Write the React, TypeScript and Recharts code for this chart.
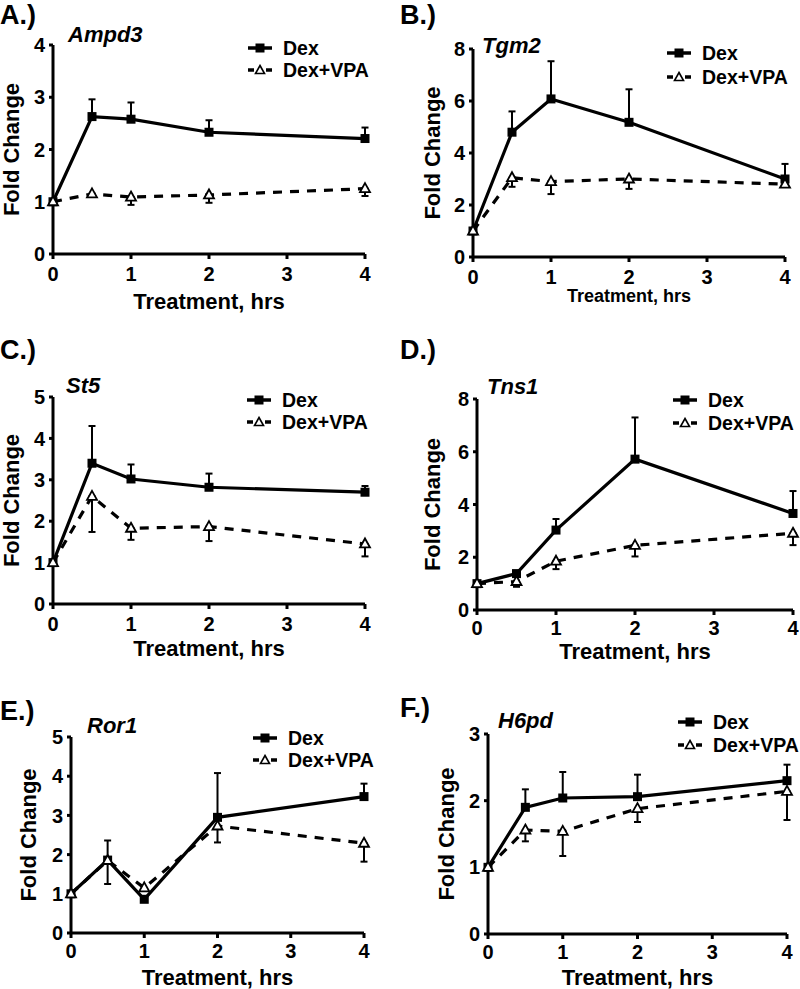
import React from 'react';
import { LineChart, Line, XAxis, YAxis, ErrorBar, Legend } from 'recharts';

// ---- data ----
const hours = [0, 0.5, 1, 2, 4];
const xTicks = [0, 1, 2, 3, 4];
const seriesNames = ['Dex', 'Dex+VPA'];
const panelLetters = ['A.)', 'B.)', 'C.)', 'D.)', 'E.)', 'F.)'];
const geneNames = ['Ampd3', 'Tgm2', 'St5', 'Tns1', 'Ror1', 'H6pd'];
const yMaxes = [4, 8, 5, 8, 5, 3];
const yTickSets = [
  [0, 1, 2, 3, 4],
  [0, 2, 4, 6, 8],
  [0, 1, 2, 3, 4, 5],
  [0, 2, 4, 6, 8],
  [0, 1, 2, 3, 4, 5],
  [0, 1, 2, 3],
];
const xTitle = 'Treatment, hrs';
const yTitle = 'Fold Change';

// Dex mean and upper SEM; Dex+VPA mean and lower SEM
const ampd3Dex = [1.0, 2.63, 2.58, 2.33, 2.21];
const ampd3DexErr = [0, 0.33, 0.32, 0.23, 0.21];
const ampd3Vpa = [1.0, 1.15, 1.09, 1.13, 1.25];
const ampd3VpaErr = [0, 0.05, 0.15, 0.15, 0.14];

const tgm2Dex = [1.0, 4.8, 6.08, 5.18, 3.0];
const tgm2DexErr = [0, 0.8, 1.45, 1.27, 0.58];
const tgm2Vpa = [1.0, 3.05, 2.9, 3.0, 2.8];
const tgm2VpaErr = [0, 0.35, 0.48, 0.38, 0.1];

const st5Dex = [1.0, 3.4, 3.02, 2.82, 2.7];
const st5DexErr = [0, 0.9, 0.35, 0.33, 0.15];
const st5Vpa = [1.0, 2.6, 1.83, 1.87, 1.45];
const st5VpaErr = [0, 0.86, 0.28, 0.35, 0.3];

const tns1Dex = [1.0, 1.38, 3.03, 5.72, 3.66];
const tns1DexErr = [0, 0.1, 0.42, 1.58, 0.85];
const tns1Vpa = [1.0, 1.08, 1.85, 2.45, 2.91];
const tns1VpaErr = [0, 0.2, 0.3, 0.42, 0.45];

const ror1Dex = [1.0, 1.86, 0.86, 2.95, 3.48];
const ror1DexErr = [0, 0.5, 0, 1.13, 0.33];
const ror1Vpa = [1.0, 1.85, 1.15, 2.73, 2.29];
const ror1VpaErr = [0, 0.6, 0.05, 0.42, 0.47];

const h6pdDex = [1.0, 1.9, 2.04, 2.06, 2.3];
const h6pdDexErr = [0, 0.27, 0.39, 0.33, 0.24];
const h6pdVpa = [1.0, 1.56, 1.54, 1.88, 2.14];
const h6pdVpaErr = [0, 0.17, 0.37, 0.2, 0.43];

const panelSeries = [
  [ampd3Dex, ampd3DexErr, ampd3Vpa, ampd3VpaErr],
  [tgm2Dex, tgm2DexErr, tgm2Vpa, tgm2VpaErr],
  [st5Dex, st5DexErr, st5Vpa, st5VpaErr],
  [tns1Dex, tns1DexErr, tns1Vpa, tns1VpaErr],
  [ror1Dex, ror1DexErr, ror1Vpa, ror1VpaErr],
  [h6pdDex, h6pdDexErr, h6pdVpa, h6pdVpaErr],
];

// ---- layout ----
const panelLayout = [
  { col: 0, L: 53, R: 365, T: 45, B: 254, xBase: 309, xFont: 22, tm: 8, yTitleX: 11, legX: 248, legY: 48, legGap: 22, geneX: 68, geneY: 35, letterY: 15 },
  { col: 1, L: 473, R: 785, T: 49, B: 257, xBase: 302, xFont: 18, tm: 8, yTitleX: 432, legX: 667, legY: 53, legGap: 24, geneX: 482, geneY: 46, letterY: 15 },
  { col: 0, L: 53, R: 365, T: 397, B: 604, xBase: 656, xFont: 22, tm: 8, yTitleX: 11, legX: 247, legY: 400, legGap: 22, geneX: 66, geneY: 386, letterY: 350 },
  { col: 1, L: 477, R: 793, T: 399, B: 610, xBase: 659, xFont: 22, tm: 6, yTitleX: 432, legX: 673, legY: 400, legGap: 23, geneX: 487, geneY: 387, letterY: 350 },
  { col: 0, L: 71, R: 364, T: 737, B: 933, xBase: 985, xFont: 22, tm: 6, yTitleX: 28, legX: 253, legY: 738, legGap: 22, geneX: 87, geneY: 726, letterY: 711 },
  { col: 1, L: 488, R: 787, T: 734, B: 934, xBase: 985, xFont: 22, tm: 6, yTitleX: 446, legX: 678, legY: 722, legGap: 23, geneX: 498, geneY: 721, letterY: 708 },
];

const FONT = '"Liberation Sans", Arial, Helvetica, sans-serif';

const SquareDot = (p: any) => {
  if (p.cx == null || p.cy == null) return <g key={`s${p.index}`} />;
  return <rect key={`s${p.index}`} x={p.cx - 4.5} y={p.cy - 4.5} width={9} height={9} fill="#000" />;
};

const TriangleDot = (p: any) => {
  if (p.cx == null || p.cy == null) return <g key={`t${p.index}`} />;
  const { cx, cy } = p;
  return (
    <polygon
      key={`t${p.index}`}
      points={`${cx},${cy - 5.5} ${cx + 5},${cy + 3.5} ${cx - 5},${cy + 3.5}`}
      fill="#fff"
      stroke="#000"
      strokeWidth={1.8}
    />
  );
};

const makeLegend = (gap: number) => () => (
  <div style={{ fontFamily: FONT, fontWeight: 'bold', fontSize: 19.5, color: '#000' }}>
    <div style={{ display: 'flex', alignItems: 'center', height: gap }}>
      <svg width={24} height={12} style={{ display: 'block' }}>
        <line x1={0} y1={6} x2={24} y2={6} stroke="#000" strokeWidth={3.5} />
        <rect x={7.5} y={1.5} width={9} height={9} fill="#000" />
      </svg>
      <span style={{ marginLeft: 11, whiteSpace: 'nowrap' }}>{seriesNames[0]}</span>
    </div>
    <div style={{ display: 'flex', alignItems: 'center', height: gap }}>
      <svg width={24} height={12} style={{ display: 'block' }}>
        <line x1={0} y1={6} x2={6} y2={6} stroke="#000" strokeWidth={3.5} />
        <line x1={18} y1={6} x2={24} y2={6} stroke="#000" strokeWidth={3.5} />
        <polygon points="12,1.5 16.5,9.5 7.5,9.5" fill="#fff" stroke="#000" strokeWidth={1.6} />
      </svg>
      <span style={{ marginLeft: 11, whiteSpace: 'nowrap' }}>{seriesNames[1]}</span>
    </div>
  </div>
);

const Panel = ({ idx }: { idx: number }) => {
  const lay = panelLayout[idx];
  const [dex, dexErr, vpa, vpaErr] = panelSeries[idx];
  const data = hours.map((h, i) => ({
    h,
    dex: dex[i],
    dexErr: [0, dexErr[i]],
    vpa: vpa[i],
    vpaErr: [vpaErr[i], 0],
  }));
  const chartLeft = lay.col * 400;
  const chartTop = lay.T - 20;
  const chartBottom = lay.xBase + 5;
  const height = chartBottom - chartTop;
  const width = 400;
  const axisStyle = { stroke: '#000', strokeWidth: 3 };
  const tickStyle = { fill: '#000', fontSize: 20, fontWeight: 'bold', fontFamily: FONT };
  return (
    <>
      <div style={{ position: 'absolute', left: chartLeft, top: chartTop }}>
        <LineChart
          width={width}
          height={height}
          data={data}
          margin={{ top: 20, right: chartLeft + width - lay.R, bottom: 0, left: 0 }}
        >
          <XAxis
            dataKey="h"
            type="number"
            domain={[0, 4]}
            ticks={xTicks}
            interval={0}
            height={chartBottom - lay.B}
            axisLine={axisStyle}
            tickLine={axisStyle}
            tickSize={5}
            tickMargin={lay.tm}
            tick={tickStyle}
            label={{
              value: xTitle,
              position: 'insideBottom',
              offset: 5,
              style: { fill: '#000', fontSize: lay.xFont, fontWeight: 'bold', fontFamily: FONT },
            }}
          />
          <YAxis
            type="number"
            domain={[0, yMaxes[idx]]}
            ticks={yTickSets[idx]}
            interval={0}
            width={lay.L - chartLeft}
            axisLine={axisStyle}
            tickLine={axisStyle}
            tickSize={4}
            tickMargin={4}
            tick={tickStyle}
            label={{
              value: yTitle,
              angle: -90,
              position: 'insideLeft',
              offset: lay.yTitleX - chartLeft,
              style: { fill: '#000', fontSize: 22, fontWeight: 'bold', fontFamily: FONT, textAnchor: 'middle' },
            }}
          />
          <Legend
            layout="vertical"
            align="center"
            verticalAlign="middle"
            content={makeLegend(lay.legGap)}
            wrapperStyle={{
              left: lay.legX - chartLeft,
              top: lay.legY - lay.legGap / 2 - chartTop,
              width: 160,
            }}
          />
          <Line
            dataKey="dex"
            name={seriesNames[0]}
            type="linear"
            stroke="#000"
            strokeWidth={3.2}
            dot={SquareDot}
            activeDot={false}
            isAnimationActive={false}
          >
            <ErrorBar dataKey="dexErr" direction="y" width={3.5} stroke="#000" strokeWidth={2} isAnimationActive={false} />
          </Line>
          <Line
            dataKey="vpa"
            name={seriesNames[1]}
            type="linear"
            stroke="#000"
            strokeWidth={3.2}
            strokeDasharray="9 8"
            dot={TriangleDot}
            activeDot={false}
            isAnimationActive={false}
          >
            <ErrorBar dataKey="vpaErr" direction="y" width={3.5} stroke="#000" strokeWidth={2} isAnimationActive={false} />
          </Line>
        </LineChart>
      </div>
      <div
        style={{
          position: 'absolute',
          left: chartLeft,
          top: lay.letterY - 0.49 * 27,
          fontFamily: FONT,
          fontWeight: 'bold',
          fontSize: 27,
          lineHeight: 1,
          color: '#000',
          whiteSpace: 'nowrap',
        }}
      >
        {panelLetters[idx]}
      </div>
      <div
        style={{
          position: 'absolute',
          left: lay.geneX,
          top: lay.geneY - 0.49 * 22,
          fontFamily: FONT,
          fontWeight: 'bold',
          fontStyle: 'italic',
          fontSize: 22,
          lineHeight: 1,
          color: '#000',
          whiteSpace: 'nowrap',
        }}
      >
        {geneNames[idx]}
      </div>
    </>
  );
};

export default function App() {
  return (
    <div
      style={{
        position: 'absolute',
        left: 0,
        top: 0,
        width: 800,
        height: 989,
        overflow: 'hidden',
        background: '#fff',
      }}
    >
      {panelLayout.map((_, i) => (
        <Panel key={i} idx={i} />
      ))}
    </div>
  );
}
